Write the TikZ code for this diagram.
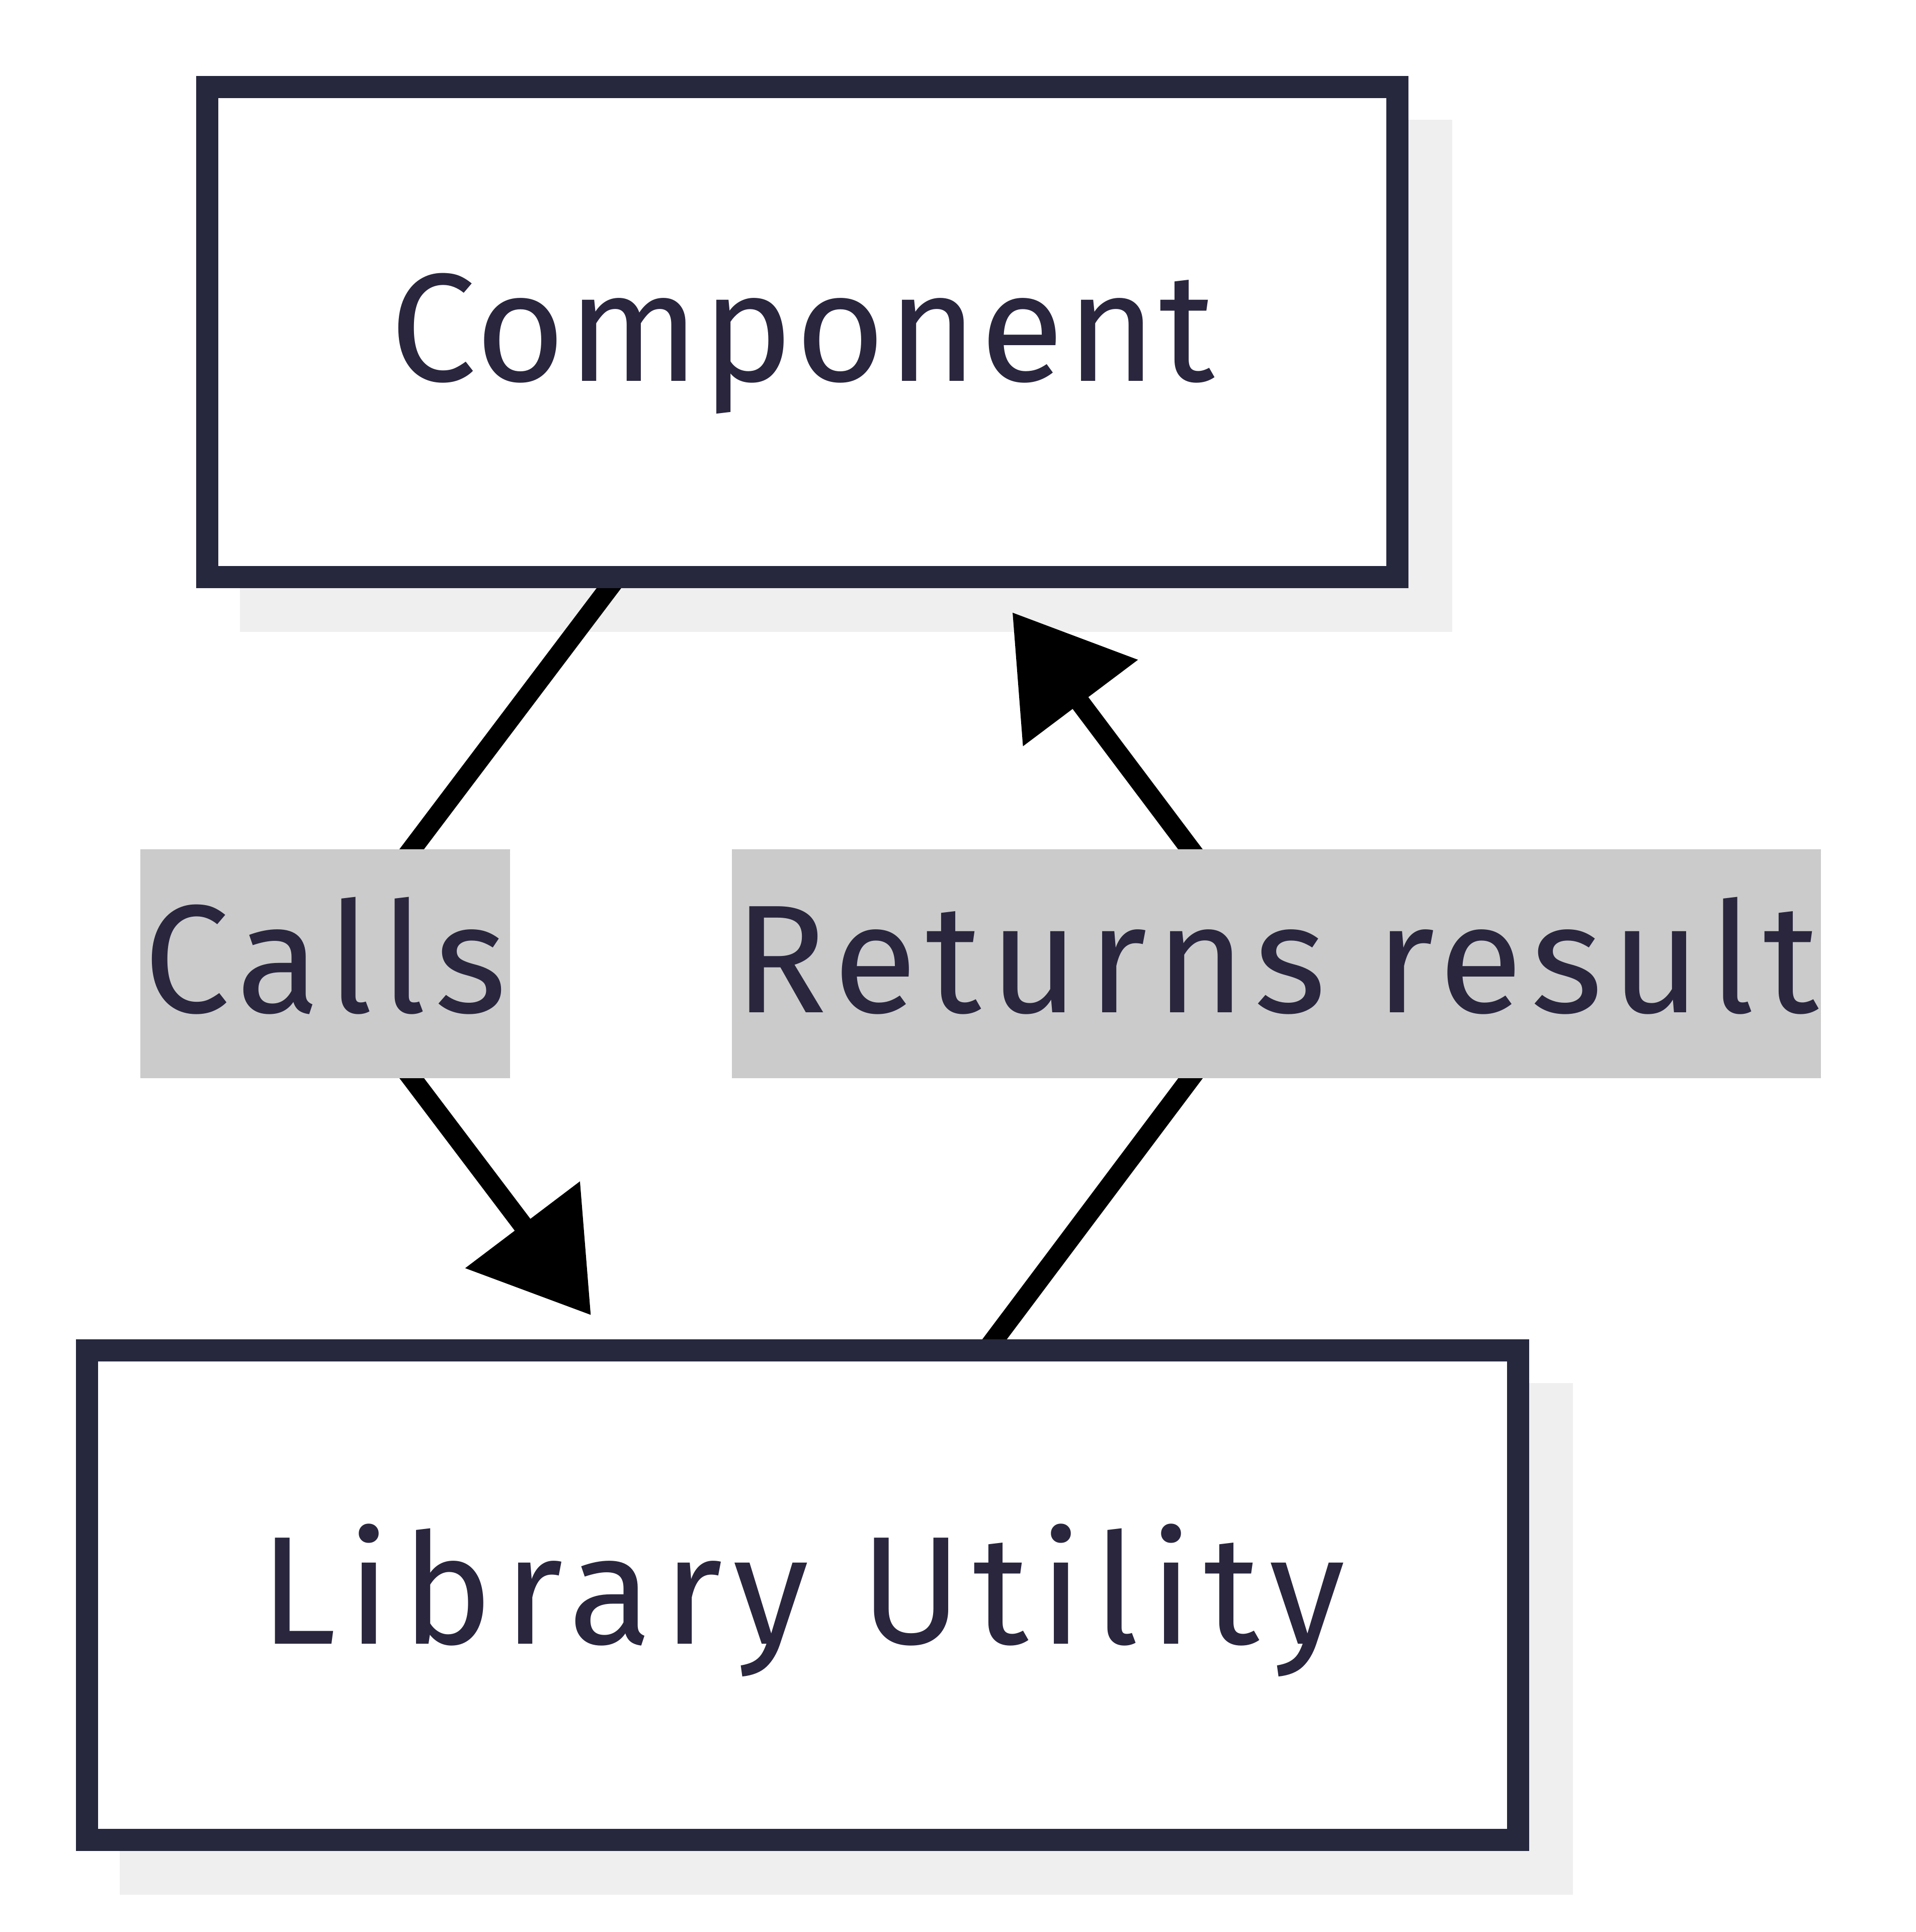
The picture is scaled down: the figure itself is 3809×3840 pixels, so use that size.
\documentclass[tikz,border=0pt]{standalone}
\usepackage{fontspec}
\setmainfont{Fira Sans}
\newfontfamily\widefira[LetterSpace=5.5]{Fira Sans}
\newfontfamily\widerfira[LetterSpace=7]{Fira Sans}
\newfontfamily\midfira[LetterSpace=1.5]{Fira Sans}
\usetikzlibrary{arrows.meta,calc,backgrounds}
\definecolor{boxline}{HTML}{26283E}
\definecolor{txt}{HTML}{29263E}
\definecolor{lblfill}{HTML}{CBCBCB}
\definecolor{shade}{HTML}{EFEFEF}
\tikzset{
  box/.style={draw=boxline, fill=white, line width=4.4pt, inner sep=0pt,
    text height=26pt, text depth=6.6pt, text=txt,
    font=\widefira\fontsize{30.6pt}{36pt}\selectfont},
  lbl/.style={fill=lblfill, draw=none, inner sep=0pt,
    text height=26pt, text depth=6.6pt, text=txt,
    font=\widefira\fontsize{30.6pt}{36pt}\selectfont},
  edge/.style={draw=black, line width=3.9pt},
  tipped/.style={-{Triangle[length=22.56pt,width=27.56pt]}, shorten >=6pt},
  boxshadow/.style={fill=shade, draw=none}
}
\begin{document}
\begin{tikzpicture}[x=0.1pt, y=-0.1pt]
\useasboundingbox (0,0) rectangle (3809,3840);
\node[box, minimum width=236.6pt, minimum height=97.4pt,
  font=\midfira\fontsize{30.6pt}{36pt}\selectfont] (comp) at (1595,660) {Component};
\node[box, minimum width=284.5pt, minimum height=97.3pt,
  font=\widerfira\fontsize{30.6pt}{36pt}\selectfont] (lib) at (1595.5,3170.5) {Library Utility};
\node[lbl, minimum width=73.5pt, minimum height=45.5pt] (calls) at (646.5,1915.5) {Calls};
\node[lbl, minimum width=216.5pt, minimum height=45.5pt] (ret) at (2537.5,1915.5) {Returns result};
\begin{pgfonlayer}{background}
  \path[boxshadow] ($(comp.north west)+(87,87)$) rectangle ($(comp.south east)+(87,87)$);
  \path[boxshadow] ($(lib.north west)+(87,87)$) rectangle ($(lib.south east)+(87,87)$);
  \draw[edge, tipped] (comp.center) -- (calls.center) -- (lib);
  \draw[edge, tipped] (lib.center) -- (ret.center) -- (comp);
\end{pgfonlayer}
\end{tikzpicture}
\end{document}
